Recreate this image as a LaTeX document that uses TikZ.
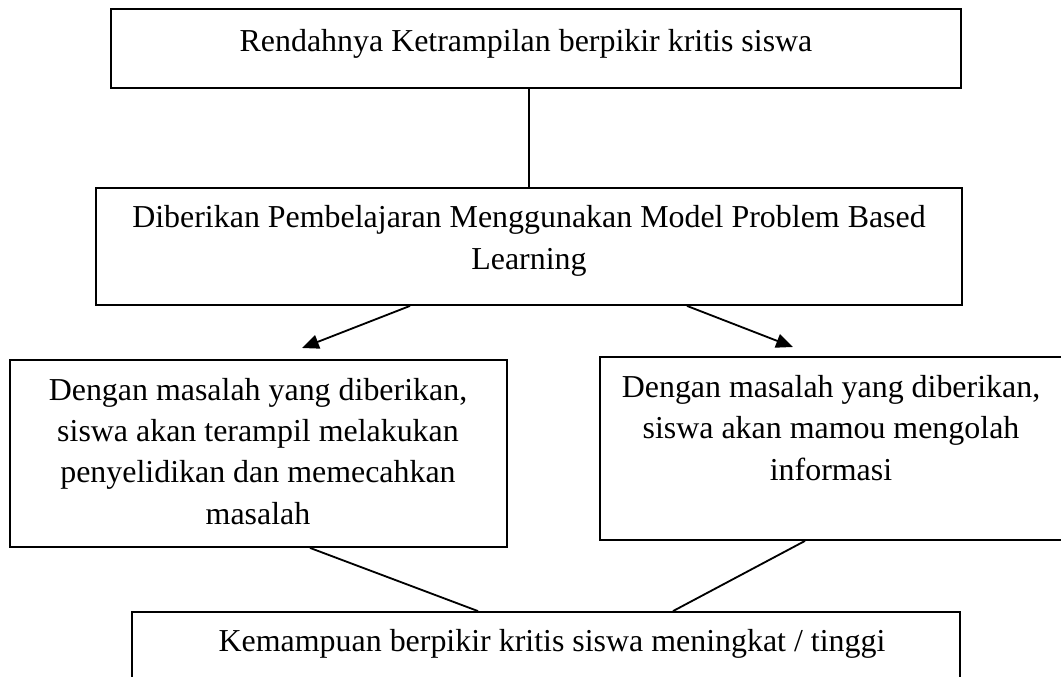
\documentclass[tikz,border=0pt]{standalone}
\usepackage{fontspec}
\setmainfont{Liberation Serif}
\usetikzlibrary{arrows.meta,fit}

\begin{document}
\begin{tikzpicture}
  [x=0.025cm,y=-0.025cm,
   kotak/.style={draw,line width=1.3pt,inner sep=0pt},
   teks/.style={anchor=base,align=center,inner sep=0pt,
     font=\fontsize{22.7}{29.2}\selectfont},
   garis/.style={line width=1.3pt},
   panah/.style={line width=1.3pt,-{Triangle[length=12pt,width=10pt]}}]
  \useasboundingbox (0,0) rectangle (1061,677);
  \clip (0,0) rectangle (1061,677);

  % kotak-kotak
  \node[kotak,fit={(111,9) (961,88)}] (rendah) {};
  \node[kotak,fit={(96,188) (962,305)}] (pbl) {};
  \node[kotak,fit={(10,360) (507,547)}] (kiri) {};
  \node[kotak,fit={(600,357) (1075,540)}] (kanan) {};
  \node[kotak,fit={(132,612) (960,700)}] (hasil) {};

  % teks (base = garis dasar baris terakhir)
  \node[teks] (t1) at (526,51) {Rendahnya Ketrampilan berpikir kritis siswa};
  \node[teks] (t2) at (529,269) {Diberikan Pembelajaran Menggunakan Model Problem Based\\Learning};
  \node[teks] (t3) at (258,524) {Dengan masalah yang diberikan,\\siswa akan terampil melakukan\\penyelidikan dan memecahkan\\masalah};
  \node[teks] (t4) at (831,480) {Dengan masalah yang diberikan,\\siswa akan mamou mengolah\\informasi};
  \node[teks] (t5) at (552,651) {Kemampuan berpikir kritis siswa meningkat / tinggi};

  % penghubung
  \coordinate (ujungkiri) at (302,348);
  \coordinate (ujungkanan) at (793,347);
  \draw[garis] (pbl.north) -- (pbl.north |- rendah.south);
  \draw[panah] (pbl.south -| 410,0) -- (ujungkiri);
  \draw[panah] (pbl.south -| 687,0) -- (ujungkanan);
  \draw[garis] (kiri.south -| 310,0) -- (hasil.north -| 478,0);
  \draw[garis] (kanan.south -| 805,0) -- (hasil.north -| 673,0);

\end{tikzpicture}
\end{document}
